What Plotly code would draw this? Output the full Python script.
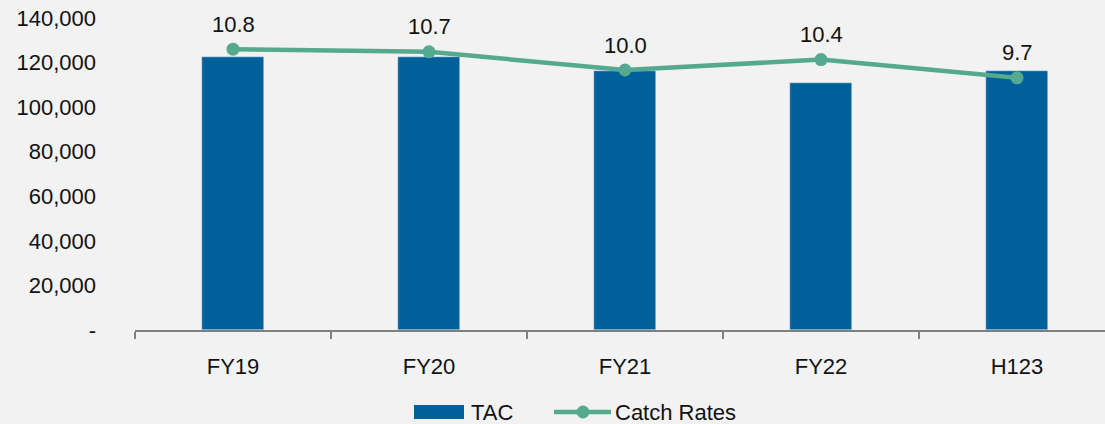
import plotly.graph_objects as go

categories = ["FY19", "FY20", "FY21", "FY22", "H123"]
tac = [122500, 122500, 116300, 110800, 116300]
catch_rates = [10.8, 10.7, 10.0, 10.4, 9.7]
catch_labels = ["10.8", "10.7", "10.0", "10.4", "9.7"]
y_tickvals = [0, 20000, 40000, 60000, 80000, 100000, 120000, 140000]
y_ticktext = ["-", "20,000", "40,000", "60,000", "80,000", "100,000", "120,000", "140,000"]

BAR = "#00609A"
LINE = "#55A98E"
BG = "#F2F2F2"
TXT = "#111111"
FONT = "Liberation Sans"
FS = 22

W, H = 1105, 424
L, R, T, B = 135, 0, 18, 94

fig = go.Figure()
fig.add_trace(go.Bar(x=categories, y=tac, name="TAC", marker_color=BAR,
                     width=0.316, showlegend=False))
fig.add_trace(go.Scatter(x=categories, y=catch_rates, name="Catch Rates", yaxis="y2",
                         mode="lines+markers",
                         line=dict(color=LINE, width=4.5),
                         marker=dict(color=LINE, size=13), showlegend=False,
                         cliponaxis=False))

pw = W - L - R
ph = H - T - B

def px(x):
    return (x - L) / pw

def py(y):
    return (H - B - y) / ph

shapes = [
    dict(type="rect", xref="paper", yref="paper", x0=px(414), x1=px(464),
         y0=py(419), y1=py(405), fillcolor=BAR, line=dict(width=0)),
    dict(type="line", xref="paper", yref="paper", x0=px(554), x1=px(611),
         y0=py(412), y1=py(412), line=dict(color=LINE, width=4.5)),
    dict(type="circle", xref="paper", yref="paper", x0=px(576.5), x1=px(589.5),
         y0=py(418.5), y1=py(405.5), fillcolor=LINE, line=dict(width=0)),
]
annotations = [
    dict(xref="paper", yref="paper", x=px(469), y=py(412), text="TAC", showarrow=False,
         xanchor="left", yanchor="middle", font=dict(family=FONT, size=FS, color=TXT)),
    dict(xref="paper", yref="paper", x=px(613), y=py(412), text="Catch Rates", showarrow=False,
         xanchor="left", yanchor="middle", font=dict(family=FONT, size=FS, color=TXT)),
]
for c, v, t in zip(categories, catch_rates, catch_labels):
    annotations.append(dict(x=c, y=v, xref="x", yref="y2", text=t, showarrow=False,
                            yshift=25, xanchor="center", yanchor="middle",
                            font=dict(family=FONT, size=FS, color=TXT)))

fig.update_layout(
    width=W, height=H,
    margin=dict(l=L, r=R, t=T, b=B, pad=0),
    paper_bgcolor=BG, plot_bgcolor=BG,
    font=dict(family=FONT, size=FS, color=TXT),
    bargap=0,
    xaxis=dict(type="category", range=[-0.5, 4.449], showgrid=False,
               showline=True, linecolor="#808080", linewidth=2,
               ticks="outside", tickson="boundaries", ticklen=7, tickwidth=2,
               tickcolor="#808080", ticklabelstandoff=16,
               tickfont=dict(family=FONT, size=FS, color=TXT), zeroline=False),
    yaxis=dict(range=[0, 140000], tickvals=y_tickvals, ticktext=y_ticktext,
               showgrid=False, zeroline=False, showline=False,
               ticklabelstandoff=38,
               tickfont=dict(family=FONT, size=FS, color=TXT)),
    yaxis2=dict(range=[0, 12], overlaying="y", visible=False),
    shapes=shapes, annotations=annotations, showlegend=False,
)

fig.write_html("out.html")
